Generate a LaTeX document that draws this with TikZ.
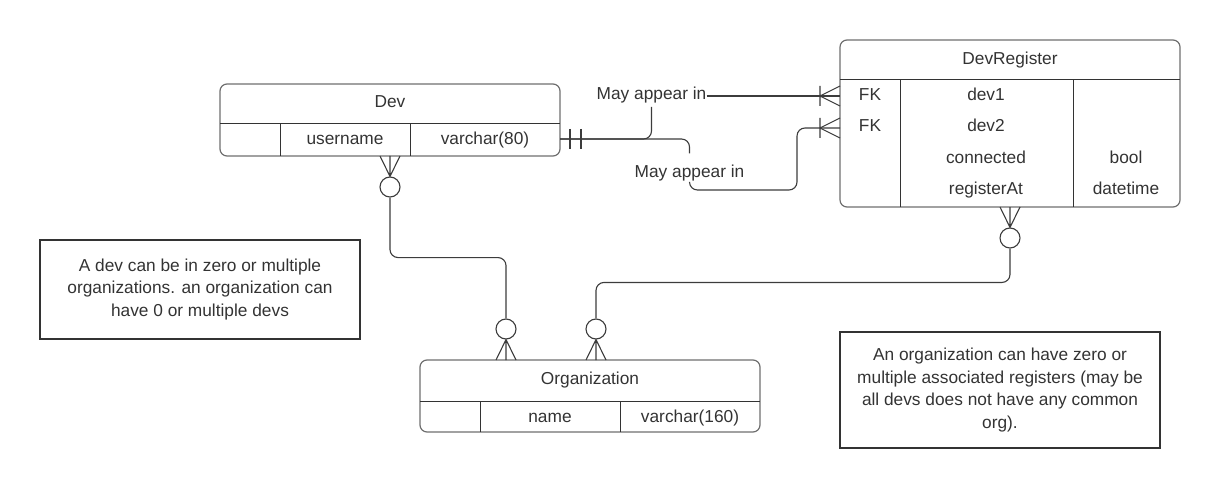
\documentclass[tikz,border=0pt]{standalone}
\usepackage{fontspec}
\setmainfont{Liberation Sans}
\usetikzlibrary{calc}
\definecolor{ink}{HTML}{333333}
\definecolor{edgecol}{HTML}{6E6E6E}
\definecolor{wirecol}{HTML}{3C3C3C}
\begin{document}
\begin{tikzpicture}[x=1pt,y=-1pt, font=\fontsize{17.3}{22.5}\selectfont, text=ink,
 tbl/.style={draw=edgecol, line width=1.2pt, rounded corners=7pt, inner sep=0pt, rectangle},
 cell/.style={draw=ink, line width=1pt},
 txt/.style={inner sep=0pt, anchor=base},
 wire/.style={draw=wirecol, line width=1.1pt, rounded corners=8pt},
 foot/.style={draw=wirecol, line width=1.1pt},
 ring/.style={circle, draw=wirecol, line width=1.1pt, minimum size=20pt, inner sep=0pt},
 note/.style={draw=ink, line width=2pt, align=center, inner sep=0pt},
 lab/.style={inner sep=0pt, anchor=base}]
\useasboundingbox (0,0) rectangle (1220,489);

% Dev table
\node[tbl, minimum width=340pt, minimum height=72pt] (dev) at (390,120) {};
\draw[cell] (220,124) -- (560,124) (280,124) -- (280,156) (410,124) -- (410,156);
\node[txt] (devT) at (390,108) {Dev};
\node[txt] (devU) at (345,145) {username};
\node[txt] (devV) at (485,145) {varchar(80)};

% DevRegister table
\node[tbl, minimum width=340pt, minimum height=167pt] (reg) at (1010,123.5) {};
\draw[cell] (840,80) -- (1180,80) (900,80) -- (900,207) (1073,80) -- (1073,207);
\node[txt] (regT) at (1010,65) {DevRegister};
\node[txt] (fkA) at (870,101) {FK};
\node[txt] (fkB) at (870,132) {FK};
\node[txt] (rD1) at (986,101) {dev1};
\node[txt] (rD2) at (986,132) {dev2};
\node[txt] (rC) at (986,164) {connected};
\node[txt] (rR) at (986,195) {registerAt};
\node[txt] (rB) at (1126,164) {bool};
\node[txt] (rT) at (1126,195) {datetime};

% Organization table
\node[tbl, minimum width=340pt, minimum height=72pt] (org) at (590,396) {};
\draw[cell] (420,401) -- (760,401) (480,401) -- (480,432) (620,401) -- (620,432);
\node[txt] (orgT) at (590,384) {Organization};
\node[txt] (orgN) at (550,422) {name};
\node[txt] (orgV) at (690,422) {varchar(160)};

% Dev -> DevRegister connectors
\coordinate (devR) at (560,139);
\coordinate (fk1) at (840,96);
\coordinate (fk2) at (840,128);
\coordinate (bend2) at (797,190);
\draw[foot] (570,129) -- (570,149) (581,129) -- (581,149);
\node[lab] (lab1) at (651.5,100) {May appear in};
\node[lab] (lab2) at (689.5,178) {May appear in};
\draw[wire] (devR) -| ([yshift=-3pt]lab1.south);
\draw[wire] (lab1.east |- fk1) -- (fk1);
\draw[foot] (840,86) -- (820,96) -- (840,106) (820,86) -- (820,106);
\draw[wire] (devR) -| ([yshift=12pt]lab2.north);
\draw[wire] (lab2.south) |- (bend2) |- (fk2);
\draw[foot] (840,118) -- (820,128) -- (840,138) (820,118) -- (820,138);

% Dev -> Organization
\node[ring] (devC) at (390,187) {};
\draw[foot] (380,156) -- (devC.north) -- (400,156) (390,156) -- (devC.north);
\node[ring] (orgC1) at (506,329) {};
\draw[foot] (496,360) -- (orgC1.south) -- (516,360) (506,360) -- (orgC1.south);
\draw[wire] (devC.south) -- ++(0,60) -| (orgC1.north);

% Organization -> DevRegister
\node[ring] (orgC2) at (596,329) {};
\draw[foot] (586,360) -- (orgC2.south) -- (606,360) (596,360) -- (orgC2.south);
\node[ring] (regC) at (1010,238) {};
\draw[foot] (1000,207) -- (regC.north) -- (1020,207) (1010,207) -- (regC.north);
\draw[wire] (orgC2.north) -- ++(0,-36) -| (regC.south);

% Notes
\node[note, minimum width=320pt, minimum height=99pt] (note1) at (200,289.5) {A dev can be in zero or multiple\\organizations. an organization can\\have 0 or multiple devs};
\node[note, minimum width=320pt, minimum height=116pt] (note2) at (1000,390) {An organization can have zero or\\multiple associated registers (may be\\all devs does not have any common\\org).};
\end{tikzpicture}
\end{document}
